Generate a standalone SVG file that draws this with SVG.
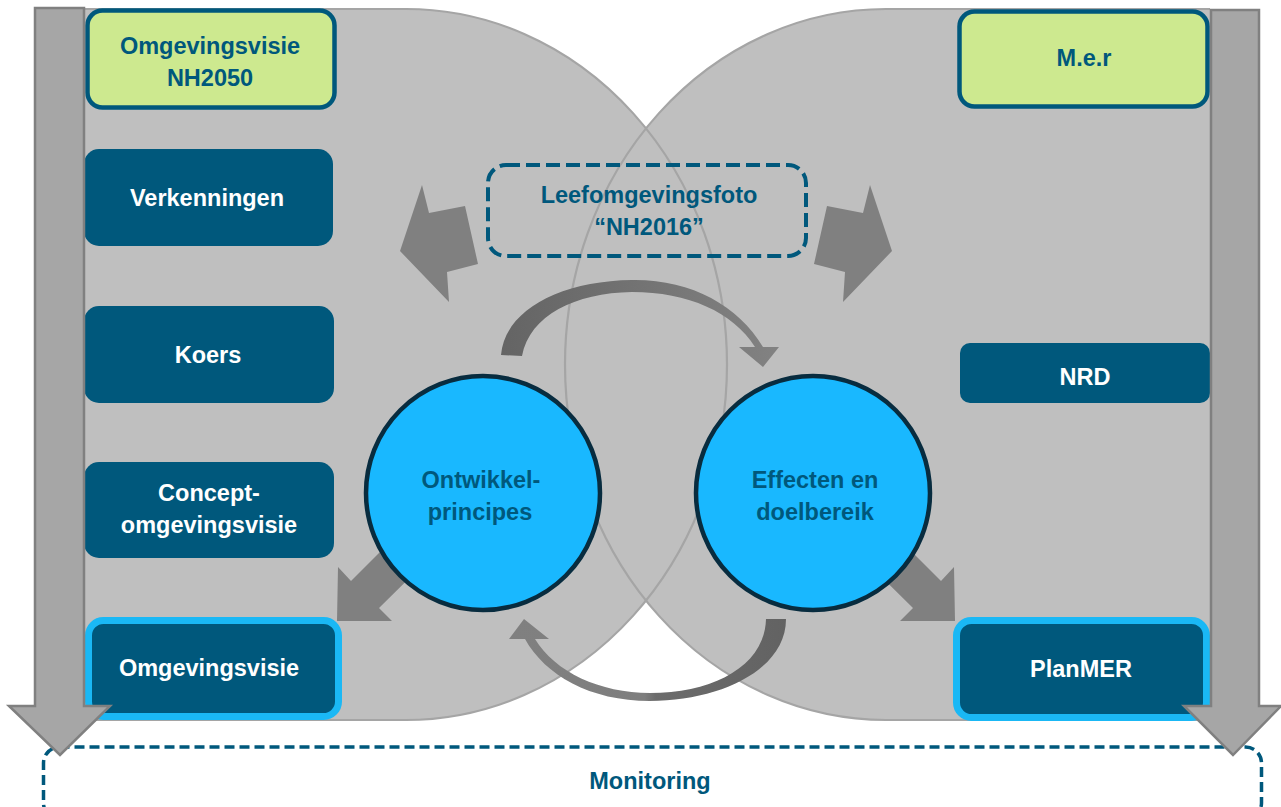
<svg xmlns="http://www.w3.org/2000/svg" width="1281" height="807" viewBox="0 0 1281 807">
<defs>
<style>
.bg{fill:#BFBFBF}
.bgline{fill:none;stroke:#A5A5A5;stroke-width:2.2}
.side{fill:#A6A6A6;stroke:#808080;stroke-width:2.5;stroke-linejoin:miter}
.blk{fill:#808080}
.green{fill:#CDE98F;stroke:#00587C;stroke-width:4.5}
.dark{fill:#00587C}
.hl{fill:#00587C;stroke:#1AB8F5;stroke-width:7}
.circ{fill:#19B8FF;stroke:#082C3F;stroke-width:4.5}
.dash{fill:none;stroke:#00587C;stroke-width:4;stroke-dasharray:14 6}
.dash2{fill:#FFFFFF;stroke:#00587C;stroke-width:3.5;stroke-dasharray:10 5}
text{font-family:"Liberation Sans",Arial,sans-serif;font-weight:bold;font-size:23.5px;text-anchor:middle}
.tw{fill:#FFFFFF}
.td{fill:#00587C}
</style>
<linearGradient id="gTop" gradientUnits="userSpaceOnUse" x1="500" y1="0" x2="780" y2="0">
<stop offset="0" stop-color="#646464"/>
<stop offset="0.5" stop-color="#737373"/>
<stop offset="1" stop-color="#828282"/>
</linearGradient>
<linearGradient id="gBot" gradientUnits="userSpaceOnUse" x1="510" y1="0" x2="790" y2="0">
<stop offset="0" stop-color="#808080"/>
<stop offset="0.48" stop-color="#7E7E7E"/>
<stop offset="0.52" stop-color="#6C6C6C"/>
<stop offset="1" stop-color="#626262"/>
</linearGradient>
</defs>

<g id="background">
<path class="bg" d="M84 9 H406 A321 355.5 0 0 1 406 720 H84 Z"/>
<path class="bg" d="M1210 9 H886 A321 355.5 0 0 0 886 720 H1210 Z"/>
<path class="bgline" d="M84 9 H406 A321 355.5 0 0 1 406 720 H84"/>
<path class="bgline" d="M1210 9 H886 A321 355.5 0 0 0 886 720 H1210"/>
</g>

<g id="connectors">
<path class="blk" d="M400 251 L422 185 L429 213 L465 206 L478 264 L447 272 L449 302 Z"/>
<path class="blk" d="M892 251 L870 185 L863 213 L827 206 L814 264 L845 272 L843 302 Z"/>
<path class="blk" d="M430 502 L458 530 L379 608 L392 621 L337 621 L338 567 L351 581 Z"/>
<path class="blk" d="M862 502 L834 530 L913 608 L900 621 L955 621 L954 567 L941 581 Z"/>
<path fill="url(#gTop)" d="M501 355 C505 310 560 281 632 280 C690 279 738 305 763 347 L779 347 L763 367 L739 347 L755 347 C733 312 688 292 632 292 C575 293 530 315 522 356 Z"/>
<path fill="url(#gBot)" d="M786 619 C786 670 720 701 650 701 C590 701 545 675 525 639 L509 639 L524 619 L549 639 L535 639 C555 672 600 693 650 693 C715 693 765 665 766 619 Z"/>
</g>

<g id="leefomgevingsfoto">
<rect class="dash" x="488" y="165" width="318" height="91" rx="18"/>
<text class="td" x="649" y="203">Leefomgevingsfoto</text>
<text class="td" x="649" y="235">“NH2016”</text>
</g>

<g id="omgevingsvisie-nh2050">
<rect class="green" x="87.5" y="10.5" width="247" height="97" rx="15"/>
<text class="td" x="210" y="54">Omgevingsvisie</text>
<text class="td" x="210" y="86">NH2050</text>
</g>

<g id="verkenningen">
<rect class="dark" x="84" y="149" width="249" height="97" rx="15"/>
<text class="tw" x="207" y="206">Verkenningen</text>
</g>

<g id="koers">
<rect class="dark" x="84" y="306" width="250" height="97" rx="15"/>
<text class="tw" x="208" y="363">Koers</text>
</g>

<g id="concept-omgevingsvisie">
<rect class="dark" x="84" y="462" width="250" height="96" rx="15"/>
<text class="tw" x="209" y="501">Concept-</text>
<text class="tw" x="209" y="533">omgevingsvisie</text>
</g>

<g id="omgevingsvisie">
<rect class="hl" x="88.5" y="620.5" width="250" height="96" rx="15"/>
<text class="tw" x="209" y="676">Omgevingsvisie</text>
</g>

<g id="mer">
<rect class="green" x="959.5" y="11.5" width="248" height="95" rx="15"/>
<text class="td" x="1084" y="66">M.e.r</text>
</g>

<g id="nrd">
<rect class="dark" x="960" y="343" width="250" height="60" rx="10"/>
<text class="tw" x="1085" y="385">NRD</text>
</g>

<g id="planmer">
<rect class="hl" x="956.5" y="620.5" width="250" height="97" rx="15"/>
<text class="tw" x="1081" y="677">PlanMER</text>
</g>

<g id="ontwikkelprincipes">
<circle class="circ" cx="483" cy="493" r="117"/>
<text class="td" x="481" y="488">Ontwikkel-</text>
<text class="td" x="480" y="520">principes</text>
</g>

<g id="effecten">
<circle class="circ" cx="813" cy="493" r="117"/>
<text class="td" x="815" y="488">Effecten en</text>
<text class="td" x="815" y="520">doelbereik</text>
</g>

<g id="monitoring">
<rect class="dash2" x="43.5" y="747" width="1218" height="72" rx="16"/>
<text class="td" x="650" y="789">Monitoring</text>
</g>

<g id="side-arrows">
<path class="side" d="M35 8 H84 V706 H110 L60 755 L9 706 H35 Z"/>
<path class="side" d="M1211 10 H1259 V706 H1281 L1233 755 L1184 706 H1211 Z"/>
</g>
</svg>
